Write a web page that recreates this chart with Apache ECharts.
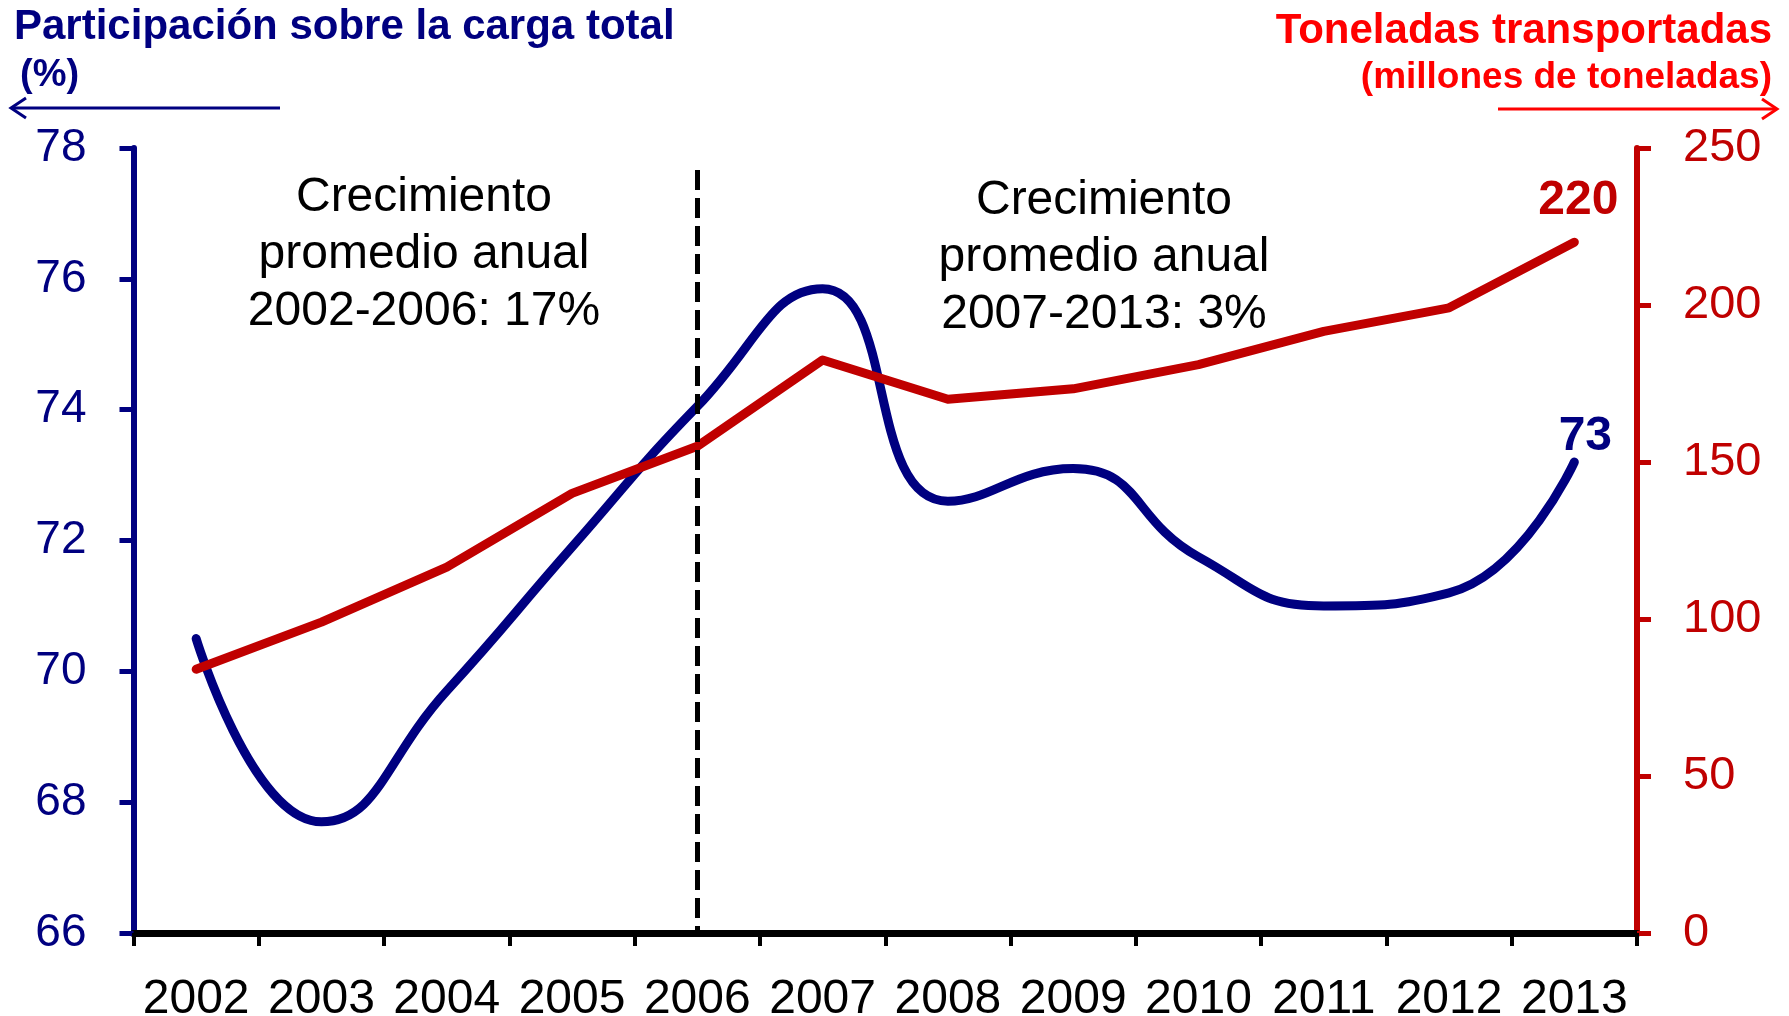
<!DOCTYPE html>
<html>
<head>
<meta charset="utf-8">
<title>Participación sobre la carga total</title>
<script src="https://cdn.jsdelivr.net/npm/echarts@6/dist/echarts.min.js"></script>
<style>
  html, body { margin: 0; padding: 0; background: #fff; }
  #main { width: 1789px; height: 1016px; }
</style>
</head>
<body>
<div id="main"></div>
<script>
var years = ['2002', '2003', '2004', '2005', '2006', '2007', '2008', '2009', '2010', '2011', '2012', '2013'];
// participation share (%), left axis
var participacion = [70.5, 67.7, 69.7, 71.9, 74.05, 75.85, 72.6, 73.1, 71.75, 71.0, 71.2, 73.2];
// tonnes transported (millions), right axis
var toneladas = [84, 99, 116.5, 140, 155, 182.5, 170, 173.3, 181, 191.6, 199.1, 220];

var FONT = '"Liberation Sans", Arial, sans-serif';
var NAVY = '#000080';
var DARKRED = '#C00000';

// only the last point carries a value label
function lastLabel(values, extra) {
  return values.map(function (v, i) {
    if (i !== values.length - 1) return v;
    return { value: v, label: Object.assign({ show: true }, extra) };
  });
}

var chart = echarts.init(document.getElementById('main'));

var option = {
  animation: false,
  grid: { left: 133.5, right: 152, top: 148, bottom: 83, containLabel: false, outerBoundsMode: 'none' },
  xAxis: {
    type: 'category',
    data: years,
    boundaryGap: true,
    axisLine: { lineStyle: { color: '#000', width: 7 } },
    axisTick: { show: true, length: 13, lineStyle: { color: '#000', width: 4 } },
    axisLabel: { color: '#000', fontSize: 48, fontFamily: FONT, margin: 43, interval: 0 }
  },
  yAxis: [{
    type: 'value',
    min: 66,
    max: 78,
    interval: 2,
    position: 'left',
    splitLine: { show: false },
    axisLine: { show: true, lineStyle: { color: NAVY, width: 6 } },
    axisTick: { show: true, length: 14, lineStyle: { color: NAVY, width: 5 } },
    axisLabel: { color: NAVY, fontSize: 46, fontFamily: FONT, margin: 47 }
  }, {
    type: 'value',
    min: 0,
    max: 250,
    interval: 50,
    position: 'right',
    splitLine: { show: false },
    axisLine: { show: true, lineStyle: { color: DARKRED, width: 6 } },
    axisTick: { show: true, length: 14, lineStyle: { color: DARKRED, width: 5 } },
    axisLabel: { color: DARKRED, fontSize: 47, fontFamily: FONT, margin: 46 }
  }],
  series: [{
    name: 'Participación',
    type: 'line',
    yAxisIndex: 0,
    smooth: 0.5,
    symbol: 'circle',
    symbolSize: 1,
    showSymbol: true,
    itemStyle: { color: NAVY },
    lineStyle: { color: NAVY, width: 9, cap: 'round' },
    data: lastLabel(participacion, {
      position: 'top', distance: 5, offset: [11, 4],
      color: NAVY, fontSize: 48, fontWeight: 'bold', fontFamily: FONT,
      formatter: function (p) { return Math.round(p.value); }
    }),
    z: 2
  }, {
    name: 'Toneladas',
    type: 'line',
    yAxisIndex: 1,
    symbol: 'circle',
    symbolSize: 1,
    showSymbol: true,
    itemStyle: { color: DARKRED },
    lineStyle: { color: DARKRED, width: 9, cap: 'round', join: 'round' },
    data: lastLabel(toneladas, {
      position: 'top', distance: 24, offset: [4, 7],
      color: DARKRED, fontSize: 48, fontWeight: 'bold', fontFamily: FONT,
      formatter: function (p) { return Math.round(p.value); }
    }),
    markLine: {
      silent: true,
      symbol: 'none',
      label: { show: false },
      lineStyle: { color: '#000', width: 5, type: [20, 8] },
      data: [[{ coord: ['2006', 243] }, { coord: ['2006', 0] }]]
    },
    z: 3
  }],
  graphic: [
    // left header
    { type: 'text', left: 14, top: 6, style: { text: 'Participación sobre la carga total', fill: NAVY, font: 'bold 42px ' + FONT } },
    { type: 'text', left: 20, top: 57, style: { text: '(%)', fill: NAVY, font: 'bold 38px ' + FONT } },
    { type: 'line', shape: { x1: 12, y1: 108, x2: 280, y2: 108 }, style: { stroke: NAVY, lineWidth: 3 } },
    { type: 'polyline', shape: { points: [[26, 98], [11, 108], [26, 118]] }, style: { stroke: NAVY, lineWidth: 3, fill: null } },
    // right header
    { type: 'text', right: 17, top: 10, style: { text: 'Toneladas transportadas', fill: '#FF0000', font: 'bold 42px ' + FONT } },
    { type: 'text', right: 17, top: 59, style: { text: '(millones de toneladas)', fill: '#FF0000', font: 'bold 37px ' + FONT } },
    { type: 'line', shape: { x1: 1498, y1: 109, x2: 1776, y2: 109 }, style: { stroke: '#FF0000', lineWidth: 3 } },
    { type: 'polyline', shape: { points: [[1762, 99], [1777, 109], [1762, 119]] }, style: { stroke: '#FF0000', lineWidth: 3, fill: null } },
    // growth notes
    { type: 'text', x: 424, y: 255, style: { text: 'Crecimiento\npromedio anual\n2002-2006: 17%', fill: '#000', font: '48px ' + FONT, lineHeight: 57, align: 'center', verticalAlign: 'middle' } },
    { type: 'text', x: 1104, y: 258, style: { text: 'Crecimiento\npromedio anual\n2007-2013: 3%', fill: '#000', font: '48px ' + FONT, lineHeight: 57, align: 'center', verticalAlign: 'middle' } }
  ]
};

chart.setOption(option);
</script>
</body>
</html>
